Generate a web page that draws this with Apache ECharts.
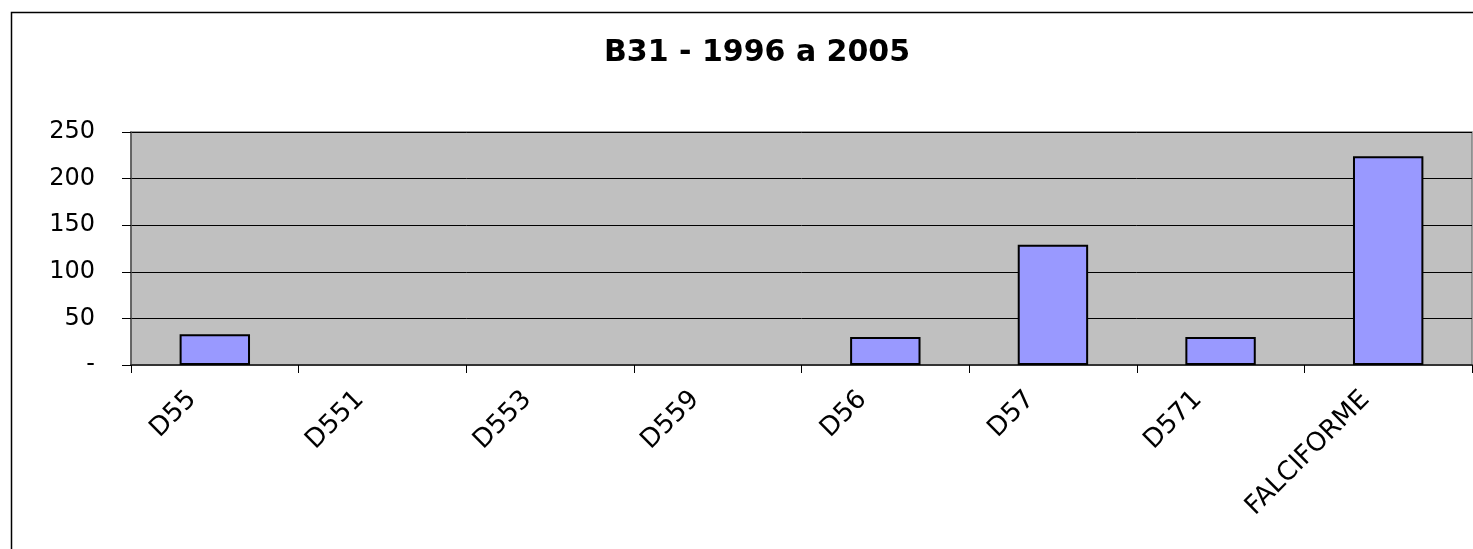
<!DOCTYPE html>
<html>
<head>
<meta charset="utf-8">
<script src="https://cdn.jsdelivr.net/npm/echarts@6/dist/echarts.min.js"></script>
<style>html,body{margin:0;padding:0;background:#fff}#c{width:1473px;height:549px}</style>
</head>
<body>
<div id="c"></div>
<script>
var titleText = 'B31 - 1996 a 2005';
var categories = ['D55', 'D551', 'D553', 'D559', 'D56', 'D57', 'D571', 'FALCIFORME'];
var values = [33, 0, 0, 0, 30, 129, 30, 224];
var yTicks = { min: 0, max: 250, interval: 50 };

var chart = echarts.init(document.getElementById('c'), null, { renderer: 'canvas' });
chart.setOption({
  animation: false,
  backgroundColor: '#ffffff',
  title: {
    text: titleText,
    left: 599,
    top: 33,
    textStyle: { fontFamily: 'DejaVu Sans', fontWeight: 'bold', fontSize: 30, color: '#000' }
  },
  graphic: [{
    type: 'rect',
    shape: { x: 11.5, y: 12.5, width: 1480, height: 560 },
    style: { fill: 'none', stroke: '#000', lineWidth: 1.5 },
    silent: true
  }],
  grid: {
    left: 131, right: 1, top: 132, bottom: 184,
    show: true, backgroundColor: '#C0C0C0', borderColor: '#808080', borderWidth: 1.5
  },
  xAxis: {
    type: 'category',
    data: categories,
    axisLine: { lineStyle: { color: '#333', width: 2 } },
    axisTick: { show: true, length: 8, lineStyle: { color: '#000', width: 1 } },
    axisLabel: {
      rotate: 45, margin: 8, padding: [0, 32, 0, 0],
      fontFamily: 'DejaVu Sans', fontSize: 26, color: '#000'
    }
  },
  yAxis: {
    type: 'value',
    min: yTicks.min, max: yTicks.max, interval: yTicks.interval,
    axisLine: { show: true, lineStyle: { color: '#555', width: 1.5 } },
    axisTick: { show: true, length: 9, lineStyle: { color: '#000' } },
    splitLine: { show: true, lineStyle: { color: '#000', width: 1 } },
    axisLabel: {
      margin: 36, fontFamily: 'DejaVu Sans', fontSize: 24, color: '#000',
      formatter: function (v) { return v === 0 ? '-' : String(v); }
    }
  },
  series: [{
    type: 'bar',
    data: values.map(function (v) { return v === 0 ? '-' : v; }),
    barCategoryGap: '58%',
    itemStyle: { color: '#9999FF', borderColor: '#000', borderWidth: 2 }
  }]
});
</script>
</body>
</html>
